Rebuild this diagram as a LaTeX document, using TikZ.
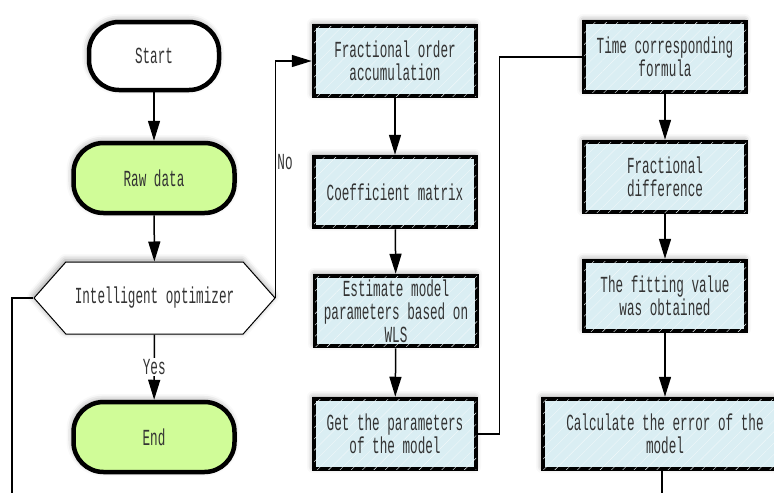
\documentclass[tikz,border=0pt]{standalone}
\usepackage{fontspec}
\usepackage{xcolor}
\usetikzlibrary{arrows.meta,shapes.symbols,shadows.blur,patterns.meta}
\newfontfamily\flowfont[FakeStretch=0.55]{Liberation Mono}
\definecolor{boxblue}{HTML}{DAEEF3}
\definecolor{rawgreen}{HTML}{D0FC98}

\begin{document}
\begin{tikzpicture}[x=1pt,y=-1pt,
    every node/.style={font=\flowfont\fontsize{23}{23}\selectfont, text=black!80},
    shade/.style={blur shadow={shadow xshift=-1pt,shadow yshift=2pt,shadow blur radius=6pt,shadow opacity=40}},
    terminal/.style={draw, line width=4.5pt, rounded corners=30pt, minimum width=130pt, minimum height=68pt, inner sep=0pt, fill=white, shade},
    rawbox/.style={terminal, fill=rawgreen, minimum width=161pt, minimum height=70pt},
    stepbox/.style={draw, line width=4.5pt, fill=boxblue, minimum width=162pt, minimum height=70pt, inner sep=0pt, align=center, shade,
        postaction={pattern={Lines[angle=45,distance=8pt,line width=0.4pt]}, pattern color=white!60!boxblue}},
    decide/.style={draw, line width=1pt, signal, signal to=west and east, signal pointer angle=97, minimum width=241pt, minimum height=72pt, inner sep=0pt, fill=white, shade},
    link/.style={line width=1.5pt},
    flow/.style={link, -{Triangle[length=20pt,width=12pt]}}]
    \useasboundingbox (0,0) rectangle (774,493);

    \node[terminal] (start) at (154,56) {Start};
    \node[rawbox] (raw) at (154,178) {Raw data};
    \node[decide] (opt) at (154.5,298) {Intelligent optimizer};
    \node[rawbox] (end) at (154,437) {End};

    \node[stepbox] (facc) at (395,61) {Fractional order\\accumulation};
    \node[stepbox] (coef) at (395,192) {Coefficient matrix};
    \node[stepbox] (est) at (396,311) {Estimate model\\parameters based on\\WLS};
    \node[stepbox] (getp) at (395,434) {Get the parameters\\of the model};

    \node[stepbox] (time) at (665,57) {Time corresponding\\formula};
    \node[stepbox] (fdiff) at (665,177) {Fractional\\difference};
    \node[stepbox] (fit) at (665,296) {The fitting value\\was obtained};
    \node[stepbox, minimum width=244pt] (calc) at (665,434) {Calculate the error of the\\model};

    \coordinate (back) at (12,493);
    \coordinate (out) at (662,493);

    \draw[flow] (start) -- (raw);
    \draw[flow] (raw) -- (opt);
    \draw[flow] (opt) -- node[fill=white, inner sep=1pt] {Yes} (end);
    \draw[flow] (opt.east) |- node[pos=0.287, right, inner sep=1pt] {No} (facc.west);
    \draw[link] (opt.west) -| (back);
    \draw[flow] (facc) -- (coef);
    \draw[flow] (coef) -- (est);
    \draw[flow] (est) -- (getp);
    \draw[link] (getp.east) -- ++(21,0) |- (time.west);
    \draw[flow] (time) -- (fdiff);
    \draw[flow] (fdiff) -- (fit);
    \draw[flow] (fit) -- (calc);
    \draw[link] (calc.south -| out) -- (out);
\end{tikzpicture}
\end{document}
